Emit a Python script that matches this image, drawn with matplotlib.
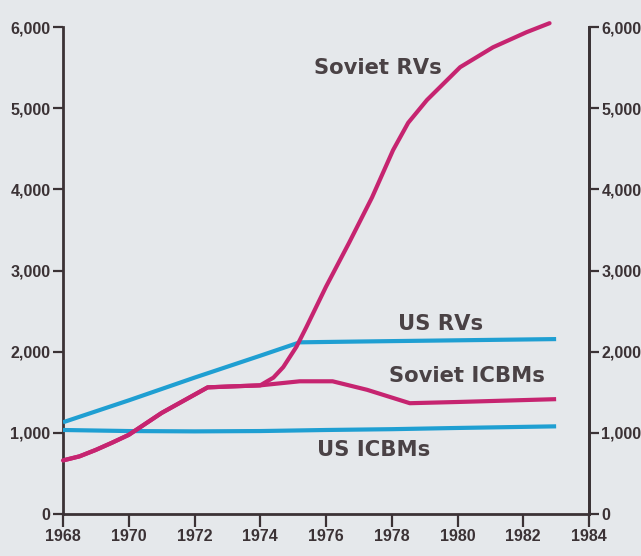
import matplotlib
matplotlib.use("Agg")
import matplotlib.pyplot as plt
from matplotlib.ticker import FuncFormatter

# ---- data ----
us_icbm_years = [1968, 1970, 1972, 1974, 1976, 1978, 1980, 1983]
us_icbm_vals = [1035, 1022, 1018, 1022, 1035, 1045, 1060, 1080]

us_rv_years = [1968, 1970, 1972, 1974, 1975.2, 1977, 1980, 1983]
us_rv_vals = [1130, 1400, 1680, 1950, 2115, 2125, 2140, 2155]

sov_icbm_years = [1968, 1968.5, 1969, 1969.5, 1970, 1971, 1972, 1972.4, 1973, 1974,
                  1975.2, 1976.2, 1977.25, 1978.55, 1980, 1983]
sov_icbm_vals = [660, 710, 790, 880, 975, 1245, 1470, 1560, 1570, 1585,
                 1635, 1635, 1530, 1365, 1380, 1415]

sov_rv_years = [1968, 1968.5, 1969, 1969.5, 1970, 1971, 1972, 1972.4, 1973, 1974,
                1974.4, 1974.7, 1975.1, 1975.4, 1976, 1976.7, 1977.4, 1978.04,
                1978.5, 1979.07, 1980.08, 1981.08, 1982.1, 1982.8]
sov_rv_vals = [660, 710, 790, 880, 975, 1245, 1470, 1560, 1570, 1585,
               1680, 1810, 2060, 2300, 2800, 3340, 3900, 4483,
               4820, 5100, 5505, 5750, 5936, 6047]

x_ticks = [1968, 1970, 1972, 1974, 1976, 1978, 1980, 1982, 1984]
y_ticks = [0, 1000, 2000, 3000, 4000, 5000, 6000]

labels = ["Soviet RVs", "US RVs", "Soviet ICBMs", "US ICBMs"]

# ---- styling ----
BG = "#e5e8eb"
AX = "#3b3235"
BLUE = "#1f9fd2"
MAG = "#c62470"
TXT = "#4a4245"
tick_font = ["Liberation Sans Narrow", "Liberation Sans", "DejaVu Sans"]
label_font = ["DejaVu Sans"]

fig = plt.figure(figsize=(6.41, 5.56), dpi=100, facecolor=BG)
ax = fig.add_axes([63 / 641, 42 / 556, (589 - 63) / 641, (514 - 27) / 556])
ax.set_facecolor(BG)

lw = 3.0
ax.plot(us_icbm_years, us_icbm_vals, color=BLUE, lw=lw, solid_capstyle="butt", zorder=3)
ax.plot(us_rv_years, us_rv_vals, color=BLUE, lw=lw, solid_capstyle="butt", zorder=3)
ax.plot(sov_icbm_years, sov_icbm_vals, color=MAG, lw=lw, solid_capstyle="butt",
        solid_joinstyle="round", zorder=4)
ax.plot(sov_rv_years, sov_rv_vals, color=MAG, lw=lw, solid_capstyle="round",
        solid_joinstyle="round", zorder=4, clip_on=False)

ax.set_xlim(1968, 1984)
ax.set_ylim(0, 6000)

ax.spines["top"].set_visible(False)
for s in ["left", "bottom", "right"]:
    ax.spines[s].set_color(AX)
    ax.spines[s].set_linewidth(2.0)

ax.set_xticks(x_ticks)
ax.set_yticks(y_ticks)
fmt = FuncFormatter(lambda v, p: f"{int(v):,}")
ax.yaxis.set_major_formatter(fmt)
ax.tick_params(axis="both", colors=AX, width=1.6, length=7, labelcolor=AX, pad=2)
ax.tick_params(axis="x", length=9)
for lab in ax.get_xticklabels() + ax.get_yticklabels():
    lab.set_family(tick_font)
    lab.set_fontsize(11.5)
    lab.set_fontweight("bold")

ax2 = ax.twinx()
ax2.set_ylim(0, 6000)
ax2.set_yticks(y_ticks)
ax2.yaxis.set_major_formatter(fmt)
for s in ["top", "left", "bottom"]:
    ax2.spines[s].set_visible(False)
ax2.spines["right"].set_color(AX)
ax2.spines["right"].set_linewidth(2.0)
ax2.tick_params(axis="y", colors=AX, width=1.6, length=7, labelcolor=AX, pad=2)
for lab in ax2.get_yticklabels():
    lab.set_family(tick_font)
    lab.set_fontsize(11.5)
    lab.set_fontweight("bold")

# ---- series labels ----
label_pos = [(1977.58, 5495), (1979.47, 2340), (1980.29, 1700), (1977.46, 788)]
for text, (x, y) in zip(labels, label_pos):
    ax.text(x, y, text, ha="center", va="center", fontsize=15.2, fontweight="bold",
            color=TXT, family=label_font)

fig.savefig("out.png", dpi=100, facecolor=BG)
